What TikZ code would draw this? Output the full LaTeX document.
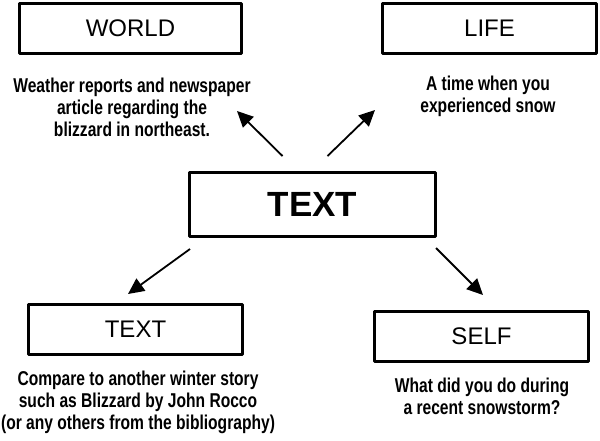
\documentclass[tikz,border=0pt]{standalone}
\usepackage{fontspec}
\setmainfont{Liberation Sans}
\newfontfamily\notefont[FakeStretch=0.78]{Liberation Sans}
\usetikzlibrary{arrows.meta}

\begin{document}
\begin{tikzpicture}[x=1pt,y=-1pt, line join=round,
    box/.style={draw,line width=3pt,minimum width=214pt,minimum height=50pt,inner sep=0pt,
        font=\fontsize{24}{28}\selectfont},
    note/.style={align=center,font=\notefont\bfseries\fontsize{20}{22}\selectfont},
    link/.style={-{Triangle[length=16pt,width=15pt]},line width=1.8pt}]
    \useasboundingbox (0,0) rectangle (600,440);
    % boxes
    \node[box,minimum width=222pt] (world) at (130.5,28.5) {WORLD};
    \node[box] (life) at (489.5,28.5) {LIFE};
    \node[box,minimum width=246pt,minimum height=64pt,font=\bfseries\fontsize{35}{40}\selectfont] (main) at (312.5,204.5) {TEXT};
    \node[box] (text) at (135.5,329.5) {TEXT};
    \node[box] (self) at (481.5,336.5) {SELF};
    % notes
    \node[note] (worldnote) at (132,107) {Weather reports and newspaper\\article regarding the\\blizzard in northeast.};
    \node[note] (lifenote) at (488,96) {A time when you\\experienced snow};
    \node[note] (textnote) at (138,402) {Compare to another winter story\\such as Blizzard by John Rocco\\(or any others from the bibliography)};
    \node[note] (selfnote) at (482,396.5) {What did you do during\\a recent snowstorm?};
    % arrows
    \coordinate (worldtip) at (237,111);
    \coordinate (lifetip) at (375,110);
    \coordinate (texttip) at (128,294);
    \coordinate (selftip) at (483,295);
    \draw[link] ([shift={(-30pt,15pt)}]main.north) -- (worldtip);
    \draw[link] ([shift={(15pt,15pt)}]main.north) -- (lifetip);
    \draw[link] ([shift={(2pt,-11pt)}]main.south west) -- (texttip);
    \draw[link] ([shift={(-1pt,-10pt)}]main.south east) -- (selftip);
\end{tikzpicture}
\end{document}
